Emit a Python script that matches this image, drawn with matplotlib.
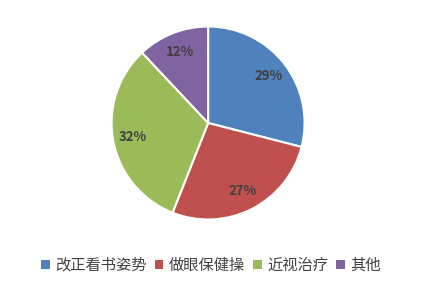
import matplotlib.pyplot as plt
from matplotlib.patches import Patch

plt.rcParams['font.family'] = ['Noto Sans CJK SC', 'DejaVu Sans']

labels = ["改正看书姿势", "做眼保健操", "近视治疗", "其他"]
values = [29, 27, 32, 12]
colors = ["#4F81BD", "#C0504D", "#9BBB59", "#8064A2"]


def main():
  fig = plt.figure(figsize=(4.26, 2.86), dpi=100)
  ax = fig.add_axes([0.262, 0.2325, 0.453, 0.675])

  wedges, texts, autotexts = ax.pie(
    values, colors=colors, startangle=90, counterclock=False,
    autopct="%d%%", pctdistance=0.79,
    wedgeprops=dict(edgecolor="white", linewidth=1.5),
    textprops=dict(color="#404040", fontsize=9.5, fontweight="bold"))
  ax.set_xlim(-1.0, 1.0)
  ax.set_ylim(-1.0, 1.0)
  ax.set_aspect("equal")

  handles = [Patch(facecolor=c, edgecolor="none") for c in colors]
  fig.legend(handles, labels, loc="center", bbox_to_anchor=(0.495, 0.073),
             ncol=4, frameon=False, fontsize=11, labelcolor="#404040",
             prop=dict(size=11, weight="medium"),
             handlelength=0.55, handleheight=0.55, handletextpad=0.35,
             columnspacing=0.55)

  fig.savefig("out.png", dpi=100)


if __name__ == "__main__":
  main()
